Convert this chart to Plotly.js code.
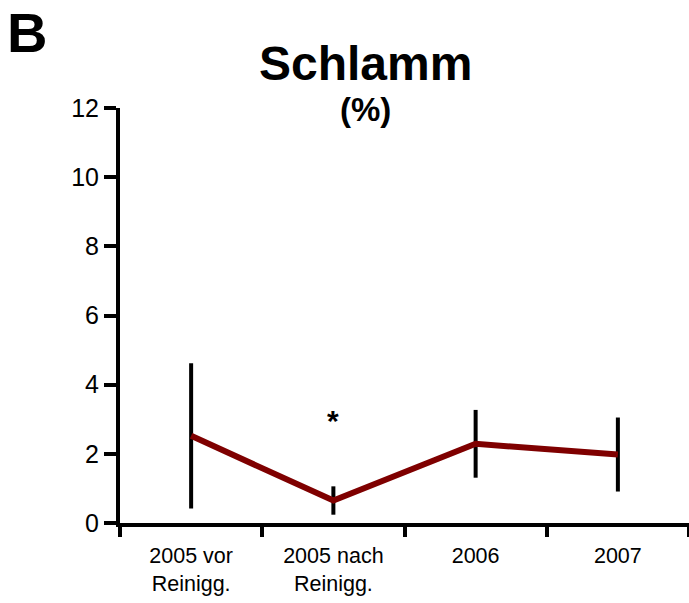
<!DOCTYPE html>
<html>
<head>
<meta charset="utf-8">
<script src="https://cdn.plot.ly/plotly-3.0.1.min.js"></script>
<style>html,body{margin:0;padding:0;background:#fff;}#chart{width:689px;height:603px;}</style>
</head>
<body>
<div id="chart"></div>
<script>
const categories = ["2005 vor<br>Reinigg.", "2005 nach<br>Reinigg.", "2006", "2007"];
const values = [2.52, 0.65, 2.29, 1.98];
const errors = [2.1, 0.41, 0.98, 1.07];
const yTicks = [0, 2, 4, 6, 8, 10, 12];
const markerLabel = "*";
const markerCategory = 1;
const markerValue = 2.95;

const font = "Liberation Sans, Arial, sans-serif";

const trace = {
  x: categories,
  y: values,
  type: "scatter",
  mode: "lines",
  line: {color: "#7f0000", width: 6},
  error_y: {type: "data", array: errors, visible: true, color: "#000", thickness: 4, width: 0},
  hoverinfo: "skip"
};

const layout = {
  width: 689,
  height: 603,
  margin: {l: 120, r: 0, t: 108, b: 80},
  paper_bgcolor: "#fff",
  plot_bgcolor: "#fff",
  showlegend: false,
  font: {family: font, color: "#000"},
  xaxis: {
    type: "category",
    range: [-0.5, 3.5],
    showline: true, linewidth: 4, linecolor: "#000",
    ticks: "outside", tickson: "boundaries", ticklen: 10, tickwidth: 4, tickcolor: "#000",
    showgrid: false, zeroline: false,
    tickfont: {family: font, size: 21.5, color: "#000"},
    ticklabelstandoff: 10,
    tickangle: 0,
    fixedrange: true
  },
  yaxis: {
    range: [0, 12],
    tickvals: yTicks,
    ticktext: yTicks.map(String),
    showline: true, linewidth: 4, linecolor: "#000",
    ticks: "outside", ticklen: 12, tickwidth: 4, tickcolor: "#000",
    showgrid: false, zeroline: false,
    tickfont: {family: font, size: 25, color: "#000"},
    fixedrange: true
  },
  annotations: [
    {
      text: "<b>" + markerLabel + "</b>",
      x: categories[markerCategory], y: markerValue, xref: "x", yref: "y",
      showarrow: false, font: {family: font, size: 30, color: "#000"}
    },
    {
      text: "<b>B</b>",
      x: -0.163, y: 1.181, xref: "paper", yref: "paper",
      xanchor: "center", yanchor: "middle",
      showarrow: false, font: {family: font, size: 56, color: "#000"}
    },
    {
      text: "<b>Schlamm</b>",
      x: 0.432, y: 1.108, xref: "paper", yref: "paper",
      xanchor: "center", yanchor: "middle",
      showarrow: false, font: {family: font, size: 48, color: "#000"}
    },
    {
      text: "<b>(%)</b>",
      x: 0.432, y: 0.996, xref: "paper", yref: "paper",
      xanchor: "center", yanchor: "middle",
      showarrow: false, font: {family: font, size: 33, color: "#000"}
    }
  ]
};

Plotly.newPlot("chart", [trace], layout, {displayModeBar: false, staticPlot: true});
</script>
</body>
</html>
